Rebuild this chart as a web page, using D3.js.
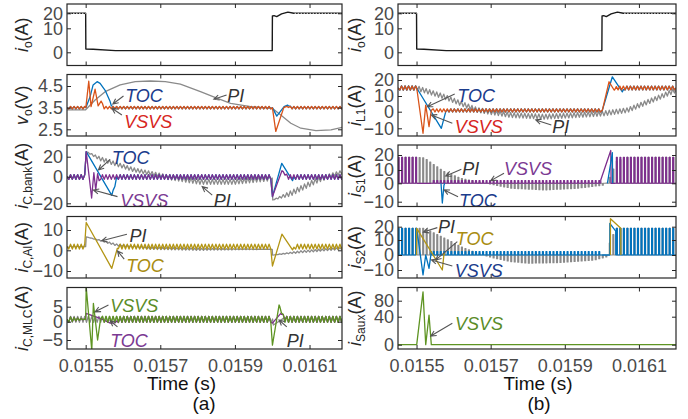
<!DOCTYPE html>
<html><head><meta charset="utf-8">
<script src="https://cdn.jsdelivr.net/npm/d3@7"></script>
<style>body{margin:0;background:#fff} svg{display:block;font-family:"Liberation Sans",Arial,sans-serif}</style>
</head><body><svg id="c" width="688" height="419"></svg>
<script>
// ---------------- DATA ----------------
const xTicks = [0.0155, 0.0157, 0.0159, 0.0161];
const T_SW = 9.5e-6;        // switching period of the converter
const DUTY = 0.3;

// load current (both columns)
const ioLoad = [[0.01545,20],[0.0155,20],[0.0155005,1.4],[0.015520,1.3],[0.015580,0.7],[0.0160,0.7],[0.0160005,18.3],[0.016005,18.4],[0.016012,17.8],[0.016025,19.6],[0.016042,20.8],[0.016058,20],[0.0162,20]];
const ioRefA = [[0.01545,20],[0.0155,20]];
const ioRefB = [[0.01606,20],[0.0162,20]];

// (a) output voltage  [t, v, ripple]
const voPI = [[0.01545,3.4],[0.0155,3.4],[0.0155253,3.85],[0.0155522,4.24],[0.0155925,4.55],[0.0156329,4.7],[0.0156732,4.73],[0.0157136,4.7],[0.0157539,4.59],[0.0158077,4.24],[0.0158481,3.96],[0.0158884,3.7],[0.0159422,3.55],[0.0160,3.47],[0.0160229,3.16],[0.0160498,2.78],[0.0160767,2.55],[0.0161171,2.44],[0.0161574,2.47],[0.0161897,2.6]];
const voTOC = [[0.01545,3.5,0.05],[0.0155,3.5,0.05],[0.0155005,3.5,0],[0.0155118,4.0,0],[0.015520,4.55,0],[0.0155307,4.7,0],[0.0155387,4.62,0],[0.0155522,4.3,0],[0.0155656,3.78,0],[0.015571,3.5,0.05],[0.0160,3.5,0.05],[0.0160005,3.5,0],[0.0160122,3.11,0],[0.0160318,3.55,0],[0.016041,3.62,0],[0.016052,3.5,0.05],[0.0162,3.5,0.05]];
const voVSVS = [[0.01545,3.5,0.06],[0.0155,3.5,0.06],[0.0155005,3.5,0],[0.0155083,4.72,0],[0.0155145,3.55,0],[0.0155253,4.35,0],[0.0155334,3.58,0],[0.0155414,3.8,0],[0.0155495,3.5,0.06],[0.0160,3.5,0.06],[0.0160005,3.5,0],[0.0160095,2.4,0],[0.016031,3.5,0],[0.016039,3.56,0],[0.016050,3.5,0.06],[0.0162,3.5,0.06]];

// (a) capacitor bank current
const icBankPI = [[0.01545,0,2],[0.0155,0,2],[0.0155015,25,0],[0.0155387,18,2],[0.015628,7,2],[0.015718,0,2],[0.015808,-3.8,2],[0.015897,-3.8,2],[0.015990,-1.2,2],[0.0160,-1,0],[0.0160015,-17.5,0],[0.0160498,-12.5,2],[0.0161217,-2.5,2],[0.016192,5,2]];
const icBankTOC = [[0.01545,0,2],[0.0155,0,2],[0.0155015,25,0],[0.015570,-14,0],[0.015585,0,2],[0.0160,0,2],[0.0160006,-15,0],[0.0160256,13.4,0],[0.0160544,-3,0],[0.016060,0,2],[0.0162,0,2]];
const icBankVSVS = [[0.01545,0,2],[0.0155,0,2],[0.0155015,25,0],[0.015516,-16,0],[0.015522,4,0],[0.015527,-10,0],[0.015532,3,0],[0.015536,-3,0],[0.01554,0,2],[0.0160,0,2],[0.0160006,-15,0],[0.016026,6,0],[0.016041,0,2],[0.0162,0,2]];

// (a) aluminium capacitor current
const icAlPI = [[0.01545,1.8,0.5],[0.0155,1.8,0],[0.0155015,6.6,0],[0.015543,4.7,0.3],[0.015584,2.6,0.5],[0.015673,1,0.5],[0.0158,0.5,0.5],[0.0160,0.5,0],[0.016001,-2.3,0],[0.016077,-0.7,0.5],[0.016192,1,0.5]];
const icAlTOC = [[0.01545,1.8,1.2],[0.0155,1.8,1.2],[0.0155015,13.7,0],[0.015570,-8.7,0],[0.015585,1.0,0],[0.01559,1.8,1.2],[0.0160,1.8,1.2],[0.0160006,-7.6,0],[0.016026,8,0],[0.0160544,0.2,0],[0.016062,1.8,1.2],[0.0162,1.8,1.2]];

// (a) MLCC current
const icMlcPI = [[0.01545,0.8,1],[0.0160,0.8,1],[0.016003,-0.9,0],[0.01603,1.1,0],[0.01604,0.8,1],[0.0162,0.8,1]];
const icMlcTOC = [[0.01545,0.8,1],[0.0155,0.8,0],[0.015501,2.8,0],[0.015539,1.1,0],[0.015566,-0.4,0],[0.015579,-0.3,0],[0.015595,0.8,1],[0.0160,0.8,1],[0.0160006,-0.4,0],[0.016023,2.8,0],[0.016038,0.8,1],[0.0162,0.8,1]];
const icMlcVSVS = [[0.01545,0.8,1],[0.0155,0.8,0],[0.0155015,11.5,0],[0.0155164,-7.8,0],[0.0155207,6.1,0],[0.015532,-5,0],[0.01554,1,0],[0.015545,0.8,1],[0.0160,0.8,1],[0.0160006,-6.4,0],[0.0160184,5.6,0],[0.016032,0.8,1],[0.0162,0.8,1]];

// (b) inductor current
const iL1PI = [[0.01545,15,1.5],[0.0155005,15,1.5],[0.0155742,9.6,1.5],[0.015664,1.1,1.5],[0.015754,-2,1.5],[0.015844,-3,1.5],[0.015934,-2,1.5],[0.016006,-1,1.5],[0.016069,1,1.5],[0.016114,5.3,1.5],[0.016159,9.6,1.5],[0.0162,13.8,1.5]];
const iL1TOC = [[0.01545,15,1.2],[0.0155,15,1.2],[0.0155005,15,0],[0.0155669,-10,0],[0.0155788,0,0],[0.015585,0.8,1],[0.0160,0.8,1],[0.016001,0.8,0],[0.0160283,22,0],[0.0160553,12.6,0],[0.016062,15,1.2],[0.0162,15,1.2]];
const iL1VSVS = [[0.01545,15,1.2],[0.0155,15,1.2],[0.0155005,15,0],[0.0155175,-13,0],[0.0155248,4.2,0],[0.0155337,-9,0],[0.0155399,1,0],[0.015545,0.8,1],[0.0160,0.8,1],[0.0160013,0.8,0],[0.0160194,18.9,0],[0.0160329,13.75,0],[0.01604,15,1.2],[0.0162,15,1.2]];

// (b) switch S1 current: pulse envelopes and transient lines
const iS1PIenv = [[0.01545,18.5],[0.0155,18.5],[0.015520,18],[0.0155742,8.7],[0.015619,3.7],[0.015664,1.2],[0.015709,-0.9],[0.015754,-2.7],[0.015844,-3.6],[0.015934,-2.7],[0.016006,-0.9],[0.016015,1.2],[0.016037,15.5],[0.01606,18.5],[0.0162,18.5]];
const iS1VSVSenvA = [[0.01545,18.5],[0.0155,18.5]];
const iS1VSVSenvB = [[0.01554,2],[0.015997,2]];
const iS1VSVSenvC = [[0.016037,18.5],[0.0162,18.5]];
const iS1VSVSline = [[0.0155,0],[0.01554,0]];
const iS1VSVSramp = [[0.015997,0],[0.015997,2.5],[0.016024,23],[0.016025,0],[0.016037,0]];
const iS1TOCline = [[0.015566,0],[0.0155696,-10.7],[0.015574,-1],[0.015576,0]];
const iS1TOCspike = [[0.016015,0],[0.0160283,21.5],[0.016029,0]];

// (b) switch S2 current
const iS2PIenv = [[0.01545,18.8],[0.0155,18.8],[0.015520,18.8],[0.0155742,11.3],[0.015619,5.5],[0.015664,1.1],[0.015709,-2.2],[0.015754,-4.4],[0.015799,-5.5],[0.015889,-5],[0.015979,-3.3],[0.016015,-1],[0.01602,8],[0.016037,18.8],[0.0162,18.8]];
const iS2VSVSenvA = [[0.01545,18.8],[0.0155,18.8]];
const iS2VSVSenvB = [[0.01554,2.3],[0.0160,2.3]];
const iS2VSVSenvC = [[0.016037,18.8],[0.0162,18.8]];
const iS2VSVSlineA = [[0.0155,0],[0.0155005,18.8],[0.0155175,-13.3],[0.0155248,0],[0.0155337,-8.9],[0.0155399,2.2],[0.01554,0]];
const iS2VSVSlineB = [[0.0160,0],[0.0160213,0],[0.0160214,22.5],[0.0160374,16.6],[0.0160375,0]];
const iS2TOClineA = [[0.0155,0],[0.0155005,18.8],[0.0155696,-10],[0.0155742,1.1],[0.015576,0]];
const iS2TOClineB = [[0.016023,0],[0.0160232,26],[0.016051,18.8],[0.0160512,0]];

// (b) auxiliary switch current
const iSaux = [[0.01545,0],[0.0155005,0],[0.0155175,102],[0.0155248,0],[0.0155337,44],[0.0155399,0],[0.0162,0]];

// y tick values per panel
const yTicksL = [[0,10,20],[2.5,3.5,4.5],[-20,0,20],[-10,0,10],[-5,0,5]];
const yTicksR = [[0,10,20],[-10,0,10,20],[-10,0,10,20],[-10,0,10,20],[0,40,80]];

// ---------------- LAYOUT ----------------
const W = 688, H = 419;
const cols = [{x0:67, x1:342, dom:[0.01545,0.016187], ylx:28, cap:"(a)", capX:204, timeX:181.5},
              {x0:398, x1:676, dom:[0.01545,0.0162], ylx:361, cap:"(b)", capX:539, timeX:538}];
const rowTop = [4, 74.5, 145, 216.5, 287.5], rowH = 61.5;
// tick positions (px from panel top) matching the reference axes
const yPosL = [[48.3,24.3,9.3],[54.8,33.15,11.5],[58.3,31.7,11.7],[54.5,33.8,13.5],[52.5,34.2,19.2]];
const yPosR = [[48.3,24.3,9.3],[53.8,37.2,21.5,5.5],[56.7,38.3,25,10],[53.5,38.5,23.5,10.2],[57.2,29.2,13.2]];

const C = {blue:"#0072BD", orange:"#D95319", purple:"#7E2F8E", gold:"#B39514", green:"#5E9423", grey:"#8a8a8a", black:"#1a1a1a"};
const TC = {navy:"#1B3C8C", red:"#D7261E", purple:"#7B3A93", gold:"#A98D12", green:"#5A8C28", pi:"#333333"};

const panels = [
  {c:0,r:0, lab:["i","o","(A)"], s:[{k:"line",d:ioLoad,c:C.black,w:1.4},{k:"line",d:ioRefA,c:"#b5b5b5",w:1.2,dash:"1.5,1.5"},{k:"line",d:ioRefB,c:"#b5b5b5",w:1.2,dash:"1.5,1.5"}], ann:[]},
  {c:0,r:1, lab:["v","o","(V)"], s:[{k:"rip",d:voPI,c:C.grey},{k:"rip",d:voTOC,c:C.blue},{k:"rip",d:voVSVS,c:C.orange}],
   ann:[{txt:"TOC",c:TC.navy,pos:[0.015606,3.76],tail:[0.0156014,4.04],tip:[0.0155729,3.67]},
        {txt:"VSVS",c:TC.red,pos:[0.0156033,2.55],tail:[0.0155971,3.16],tip:[0.0155702,3.47]},
        {txt:"PI",c:TC.pi,pos:[0.0158796,3.77],tail:[0.0158777,4.08],tip:[0.0158435,3.89]}]},
  {c:0,r:2, lab:["i","C,bank","(A)"], s:[{k:"rip",d:icBankPI,c:C.grey},{k:"rip",d:icBankTOC,c:C.blue},{k:"rip",d:icBankVSVS,c:C.purple}],
   ann:[{txt:"TOC",c:TC.navy,pos:[0.0155702,12.7],tail:[0.0155656,17.4],tip:[0.0155342,6.7]},
        {txt:"VSVS",c:TC.purple,pos:[0.0155925,-22.6],tail:[0.0155853,-15],tip:[0.0155207,-10]},
        {txt:"PI",c:TC.pi,pos:[0.0158435,-22.6],tail:[0.0158392,-13.8],tip:[0.0158123,-7.5]}]},
  {c:0,r:3, lab:["i","C,Al","(A)"], s:[{k:"rip",d:icAlPI,c:C.grey},{k:"rip",d:icAlTOC,c:C.gold}],
   ann:[{txt:"PI",c:TC.pi,pos:[0.0156176,4.2],tail:[0.0156106,7.9],tip:[0.0155433,4.7]},
        {txt:"TOC",c:TC.gold,pos:[0.0156087,-10.3],tail:[0.0156033,-4.3],tip:[0.0155853,-0.3]}]},
  {c:0,r:4, lab:["i","C,MLC","(A)"], s:[{k:"rip",d:icMlcPI,c:C.grey},{k:"rip",d:icMlcTOC,c:C.purple},{k:"rip",d:icMlcVSVS,c:C.green}],
   ann:[{txt:"VSVS",c:TC.green,pos:[0.0155656,3.33],tail:[0.0155611,5.6],tip:[0.0155253,3.3]},
        {txt:"TOC",c:TC.purple,pos:[0.0155656,-6.8],tail:[0.0155853,-1.4],tip:[0.0155656,0.3]},
        {txt:"PI",c:TC.pi,pos:[0.016039,-6.8],tail:[0.016039,-1.4],tip:[0.0160184,0.57]}]},
  {c:1,r:0, lab:["i","o","(A)"], s:[{k:"line",d:ioLoad,c:C.black,w:1.4},{k:"line",d:ioRefA,c:"#b5b5b5",w:1.2,dash:"1.5,1.5"},{k:"line",d:ioRefB,c:"#b5b5b5",w:1.2,dash:"1.5,1.5"}], ann:[]},
  {c:1,r:1, lab:["i","L1","(A)"], s:[{k:"rip",d:iL1PI,c:C.grey},{k:"rip",d:iL1TOC,c:C.blue},{k:"rip",d:iL1VSVS,c:C.orange}],
   ann:[{txt:"TOC",c:TC.navy,pos:[0.01561,6.4],tail:[0.015603,11.25],tip:[0.0155291,3.2]},
        {txt:"VSVS",c:TC.red,pos:[0.015603,-13],tail:[0.0155966,-7],tip:[0.0155399,-2]},
        {txt:"PI",c:TC.pi,pos:[0.0158664,-13],tail:[0.0158637,-8],tip:[0.0158216,-5]}]},
  {c:1,r:2, lab:["i","S1","(A)"], s:[{k:"pulse",d:iS1PIenv,c:C.grey},
        {k:"pulse",d:iS1VSVSenvA,c:C.purple},{k:"pulse",d:iS1VSVSenvB,c:C.purple},{k:"pulse",d:iS1VSVSenvC,c:C.purple},
        {k:"line",d:iS1VSVSline,c:C.purple},{k:"line",d:iS1VSVSramp,c:C.purple},
        {k:"line",d:iS1TOCline,c:C.blue},{k:"line",d:iS1TOCspike,c:C.blue}],
   ann:[{txt:"PI",c:TC.pi,pos:[0.0156236,6.2],tail:[0.0156209,10.5],tip:[0.0155788,5.5]},
        {txt:"VSVS",c:TC.purple,pos:[0.015736,6.2],tail:[0.015736,7.5],tip:[0.0157002,2]},
        {txt:"TOC",c:TC.navy,pos:[0.0156147,-12.7],tail:[0.015612,-7.3],tip:[0.0155742,-3.6]}]},
  {c:1,r:3, lab:["i","S2","(A)"], s:[{k:"pulse",d:iS2PIenv,c:C.grey},
        {k:"pulse",d:iS2VSVSenvA,c:C.blue},{k:"pulse",d:iS2VSVSenvB,c:C.blue},{k:"pulse",d:iS2VSVSenvC,c:C.blue},
        {k:"line",d:iS2VSVSlineA,c:C.blue},{k:"line",d:iS2VSVSlineB,c:C.blue},
        {k:"line",d:iS2TOClineA,c:C.gold},{k:"line",d:iS2TOClineB,c:C.gold}],
   ann:[{txt:"PI",c:TC.pi,pos:[0.015558,15],tail:[0.0155561,19.3],tip:[0.0155183,16]},
        {txt:"TOC",c:TC.gold,pos:[0.0156058,6.7],tail:[0.01561,8.9],tip:[0.0155518,-3.3]},
        {txt:"VSVS",c:TC.navy,pos:[0.015603,-14.5],tail:[0.0155966,-7.3],tip:[0.0155399,-3.3]}]},
  {c:1,r:4, lab:["i","Saux","(A)"], s:[{k:"line",d:iSaux,c:C.green}],
   ann:[{txt:"VSVS",c:TC.green,pos:[0.0156039,21],tail:[0.0155966,30.6],tip:[0.0155383,12.4]}]}
];

// ---------------- HELPERS ----------------
const T0 = 0.01545;
function interp(pts, t){
  if (t <= pts[0][0]) return {v:pts[0][1], r:pts[0][2]||0};
  for (let i=0;i<pts.length-1;i++){
    const a=pts[i], b=pts[i+1];
    if (t>=a[0] && t<=b[0]){
      const f = b[0]===a[0] ? 1 : (t-a[0])/(b[0]-a[0]);
      return {v:a[1]+(b[1]-a[1])*f, r:(a[2]||0)+((b[2]||0)-(a[2]||0))*f};
    }
  }
  const l=pts[pts.length-1]; return {v:l[1], r:l[2]||0};
}
function rippled(pts){
  const items=[];
  pts.forEach((p,i)=>{ if(!(p[2]>0) || i===0 || i===pts.length-1) items.push({t:p[0],v:p[1],o:i}); });
  const half=T_SW/2, tA=pts[0][0], tB=pts[pts.length-1][0];
  for (let k=Math.ceil((tA-T0)/half+1e-9); T0+k*half < tB; k++){
    const t=T0+k*half, q=interp(pts,t);
    if (q.r>0) items.push({t, v:q.v+(k%2?-q.r:q.r), o:0.5});
  }
  items.sort((a,b)=>a.t-b.t || a.o-b.o);
  return items;
}
function pulses(env){
  const out=[], tA=env[0][0], tB=env[env.length-1][0];
  out.push({t:tA,v:0});
  for (let k=Math.ceil((tA-T0)/T_SW-1e-9); T0+k*T_SW<tB; k++){
    const t=T0+k*T_SW, v=interp(env,t).v, t2=Math.min(t+DUTY*T_SW,tB);
    out.push({t,v:0},{t,v},{t:t2,v},{t:t2,v:0});
  }
  out.push({t:tB,v:0});
  return out;
}

// ---------------- DRAW ----------------
const svg = d3.select("#c");
svg.append("rect").attr("width",W).attr("height",H).attr("fill","#fff");

panels.forEach((p,pi)=>{
  const col = cols[p.c], top = rowTop[p.r], bot = top+rowH;
  const x = d3.scaleLinear().domain(col.dom).range([col.x0,col.x1]);
  const ticks = p.c===0 ? yTicksL[p.r] : yTicksR[p.r];
  const pos = (p.c===0 ? yPosL[p.r] : yPosR[p.r]).map(d=>top+d);
  const y = d3.scaleLinear().domain(ticks).range(pos);
  const g = svg.append("g");
  const cid = "clip"+pi;
  g.append("clipPath").attr("id",cid).append("rect").attr("x",col.x0).attr("y",top).attr("width",col.x1-col.x0).attr("height",rowH);
  const plot = g.append("g").attr("clip-path",`url(#${cid})`);
  const line = d3.line().x(d=>x(d.t)).y(d=>y(d.v));
  p.s.forEach(s=>{
    let pts;
    if (s.k==="rip") pts = rippled(s.d);
    else if (s.k==="pulse") pts = pulses(s.d);
    else pts = s.d.map(d=>({t:d[0],v:d[1]}));
    plot.append("path").attr("d",line(pts)).attr("fill","none").attr("stroke",s.c)
      .attr("stroke-width",s.w||(s.k==="pulse"?1.1:1.3)).attr("stroke-linejoin","round")
      .attr("stroke-dasharray",s.dash||null);
  });
  // annotations
  p.ann.forEach(a=>{
    const x1=x(a.tail[0]), y1=y(a.tail[1]), x2=x(a.tip[0]), y2=y(a.tip[1]);
    const ang=Math.atan2(y1-y2,x1-x2), L=6, sp=0.45;
    g.append("path").attr("d",`M${x1},${y1}L${x2},${y2}M${x2+L*Math.cos(ang+sp)},${y2+L*Math.sin(ang+sp)}L${x2},${y2}L${x2+L*Math.cos(ang-sp)},${y2+L*Math.sin(ang-sp)}`)
      .attr("fill","none").attr("stroke","#555").attr("stroke-width",1.1);
    g.append("text").attr("x",x(a.pos[0])).attr("y",y(a.pos[1])).attr("font-style","italic")
      .attr("font-size",18).attr("fill",a.c).text(a.txt);
  });
  // axes (inward ticks on all four sides)
  const styleAx = sel=>{ sel.select(".domain").remove(); sel.selectAll("line").attr("stroke","#262626");
    sel.selectAll("text").attr("fill","#4a4a4a").attr("font-size",18).attr("font-family","Liberation Sans, Arial, sans-serif"); sel.attr("font-size",null).attr("font-family",null); };
  g.append("g").attr("transform",`translate(${col.x0},0)`).call(d3.axisLeft(y).tickValues(ticks).tickSizeInner(-4).tickSizeOuter(0).tickPadding(4)).call(styleAx);
  g.append("g").attr("transform",`translate(${col.x1},0)`).call(d3.axisRight(y).tickValues(ticks).tickSizeInner(-4).tickSizeOuter(0).tickFormat("")).call(styleAx);
  const bx = d3.axisBottom(x).tickValues(xTicks).tickSizeInner(-4).tickSizeOuter(0).tickPadding(10).tickFormat(p.r===4?d3.format(".4f"):"");
  g.append("g").attr("transform",`translate(0,${bot})`).call(bx).call(styleAx);
  g.append("g").attr("transform",`translate(0,${top})`).call(d3.axisTop(x).tickValues(xTicks).tickSizeInner(-4).tickSizeOuter(0).tickFormat("")).call(styleAx);
  g.append("rect").attr("x",col.x0).attr("y",top).attr("width",col.x1-col.x0).attr("height",rowH)
    .attr("fill","none").attr("stroke","#262626").attr("stroke-width",1.2);
  // y label
  const t = g.append("text").attr("transform",`translate(${col.ylx},${top+rowH/2}) rotate(-90)`)
    .attr("text-anchor","middle").attr("font-size",18).attr("fill","#262626");
  t.append("tspan").attr("font-style","italic").text(p.lab[0]);
  t.append("tspan").attr("font-size",12).attr("dy",4).text(p.lab[1]);
  t.append("tspan").attr("dy",-4).text(p.lab[2]);
});

cols.forEach(col=>{
  svg.append("text").attr("x",col.timeX).attr("y",390).attr("text-anchor","middle")
    .attr("font-size",19).attr("fill","#111").text("Time (s)");
  svg.append("text").attr("x",col.capX).attr("y",410).attr("text-anchor","middle")
    .attr("font-size",19).attr("fill","#111").text(col.cap);
});
</script></body></html>
